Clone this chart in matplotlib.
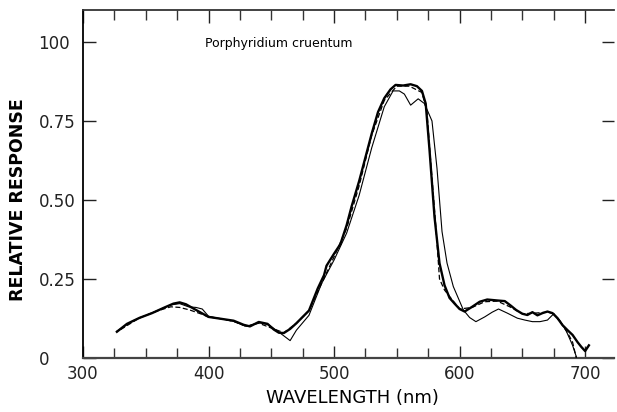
import matplotlib
matplotlib.use("Agg")
import matplotlib.pyplot as plt
from matplotlib.ticker import MultipleLocator

# Thick solid curve
wl_thick = [327, 335, 345, 355, 365, 372, 377, 382, 390, 400, 410, 420, 428, 433, 440, 447, 452, 456, 460,
            465, 470, 480, 487, 492, 494, 500, 505, 510, 514, 520, 526, 530, 535, 540, 545, 549, 555, 561, 566, 570,
            573, 576, 580, 584, 588, 592, 596, 600, 604, 610, 616, 622, 630, 636, 641, 645, 650, 654, 658,
            662, 666, 670, 674, 678, 682, 686, 690, 694, 697, 700, 703]
r_thick = [0.083, 0.108, 0.127, 0.142, 0.160, 0.172, 0.176, 0.170, 0.152, 0.130, 0.124, 0.118, 0.105, 0.100,
           0.114, 0.108, 0.090, 0.080, 0.079, 0.092, 0.110, 0.150, 0.220, 0.262, 0.292, 0.330, 0.360, 0.420, 0.480,
           0.560, 0.650, 0.710, 0.778, 0.822, 0.850, 0.864, 0.862, 0.866, 0.860, 0.845, 0.805, 0.660, 0.447,
           0.300, 0.230, 0.190, 0.172, 0.155, 0.147, 0.162, 0.178, 0.185, 0.182, 0.180, 0.165, 0.152, 0.140,
           0.136, 0.145, 0.135, 0.142, 0.147, 0.142, 0.126, 0.104, 0.088, 0.073, 0.050, 0.035, 0.022, 0.040]

# Thin solid curve
wl_thin = [327, 340, 355, 370, 377, 384, 390, 395, 400, 410, 420, 430, 440, 448, 455, 460, 465, 470, 480,
           490, 500, 510, 520, 530, 540, 547, 552, 556, 561, 567, 572, 578, 582, 586, 590, 595, 603, 608,
           613, 620, 626, 631, 638, 646, 652, 658, 664, 670, 675, 680, 685, 690, 693]
r_thin = [0.085, 0.118, 0.143, 0.168, 0.172, 0.162, 0.160, 0.155, 0.132, 0.124, 0.116, 0.100, 0.112, 0.105,
          0.085, 0.070, 0.055, 0.088, 0.135, 0.235, 0.310, 0.395, 0.515, 0.665, 0.795, 0.845, 0.845, 0.835,
          0.800, 0.820, 0.805, 0.750, 0.600, 0.400, 0.300, 0.226, 0.152, 0.128, 0.115, 0.130, 0.145, 0.155,
          0.142, 0.126, 0.120, 0.115, 0.115, 0.120, 0.140, 0.118, 0.085, 0.040, 0.004]

# Dashed curve
wl_dash = [330, 345, 360, 370, 377, 385, 395, 400, 410, 420, 430, 440, 450, 460, 470, 480, 490, 500,
           510, 520, 530, 540, 550, 560, 570, 574, 577, 581, 584, 588, 595, 600, 610, 620, 630, 640,
           650, 660, 670, 675, 680, 686, 690, 693]
r_dash = [0.090, 0.127, 0.150, 0.162, 0.160, 0.152, 0.138, 0.130, 0.124, 0.116, 0.100, 0.110, 0.095, 0.080,
          0.110, 0.150, 0.235, 0.320, 0.410, 0.545, 0.705, 0.815, 0.860, 0.860, 0.840, 0.780, 0.620, 0.420,
          0.250, 0.215, 0.180, 0.155, 0.160, 0.178, 0.180, 0.162, 0.140, 0.142, 0.145, 0.140, 0.115, 0.080,
          0.050, 0.000]

ytick_vals = [0, 0.25, 0.50, 0.75, 1.00]
ytick_labels = ["0", "0.25", "0.50", "0.75", "100"]
xtick_vals = [300, 400, 500, 600, 700]

plt.rcParams['font.family'] = ['DejaVu Sans']

fig = plt.figure(figsize=(6.17, 4.12), dpi=100)
ax = fig.add_axes([83 / 617, 1 - 358 / 412, (614 - 83) / 617, (358 - 10) / 412])

ax.plot(wl_thin, r_thin, color='black', lw=0.8, zorder=3)
ax.plot(wl_dash, r_dash, color='black', lw=0.9, ls=(0, (4, 2)), zorder=3)
ax.plot(wl_thick, r_thick, color='black', lw=1.7, zorder=4)

ax.set_xlim(300, 723)
ax.set_ylim(0, 1.101)

ax.spines['right'].set_visible(False)
ax.spines['left'].set_linewidth(1.3)
ax.spines['top'].set_linewidth(1.3)
ax.spines['bottom'].set_linewidth(1.6)
ax.spines['bottom'].set_color('#444444')
ax.spines['top'].set_color('#333333')

ax.set_xticks(xtick_vals)
ax.xaxis.set_minor_locator(MultipleLocator(25))
ax.set_yticks(ytick_vals)
ax.set_yticklabels(ytick_labels)

ax.tick_params(axis='x', which='major', direction='in', length=9, width=1.0, top=True, bottom=True,
               labelsize=12, pad=5, colors='#222222')
ax.tick_params(axis='x', which='minor', direction='in', length=7, width=1.0, top=True, bottom=True,
               colors='#333333')
ax.tick_params(axis='y', which='major', direction='in', length=9, width=1.0, left=True, right=True,
               labelsize=12, pad=32, colors='#222222')
ax.tick_params(axis='y', which='minor', left=False, right=False)
for lab in ax.get_yticklabels():
    lab.set_horizontalalignment('left')

ax.set_xlabel("WAVELENGTH (nm)", fontsize=13)
ax.xaxis.label.set_verticalalignment('center')
ax.xaxis.set_label_coords((352 - 83) / 531, (358 - 398) / 348)
ax.set_ylabel("RELATIVE RESPONSE", fontsize=12.5, fontweight='bold')
ax.yaxis.label.set_verticalalignment('center')
ax.yaxis.set_label_coords((18 - 83) / 531, (358 - 200) / 348)

ax.text(397, 0.995, "Porphyridium cruentum", fontsize=9, va='center', ha='left')

fig.savefig("out.png", dpi=100)
